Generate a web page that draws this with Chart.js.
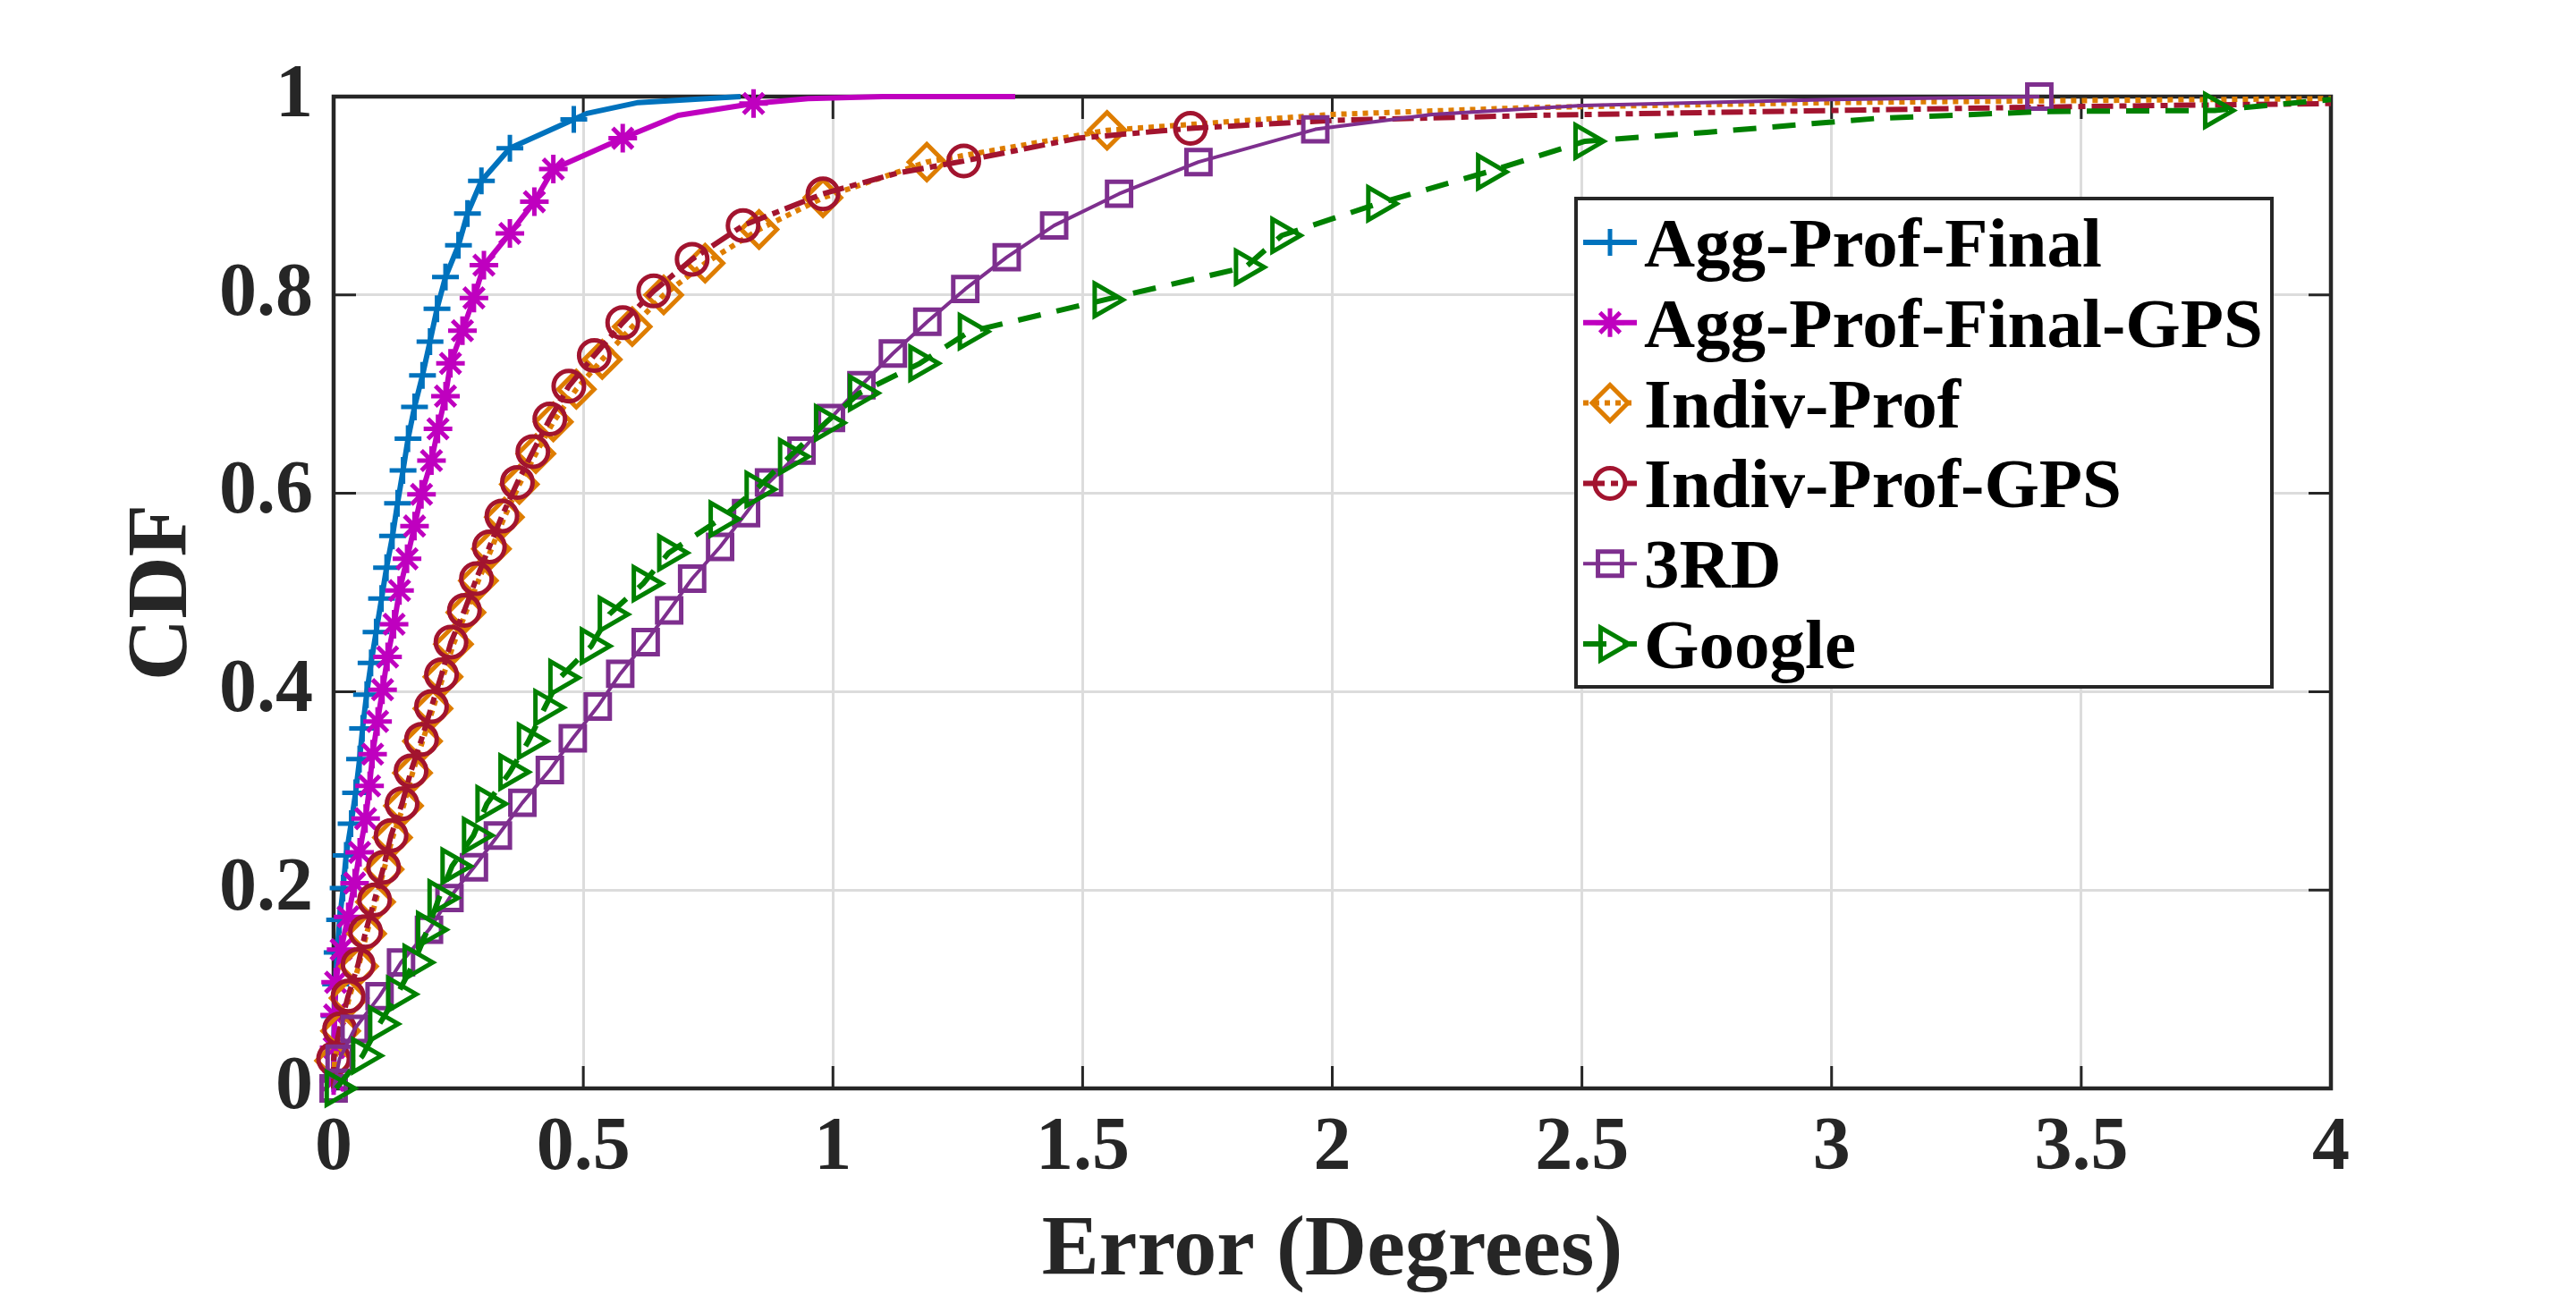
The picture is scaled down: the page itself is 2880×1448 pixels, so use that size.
<!DOCTYPE html>
<html>
<head>
<meta charset="utf-8">
<script src="https://cdn.jsdelivr.net/npm/chart.js@4.4.1/dist/chart.umd.min.js"></script>
<style>
  html, body { margin: 0; padding: 0; background: #fff; }
  #wrap { width: 2880px; height: 1448px; }
</style>
</head>
<body>
<div id="wrap"><canvas id="cdf" width="2880" height="1448"></canvas></div>
<script>
// tick values and labels
const xTickValues = [0, 0.5, 1, 1.5, 2, 2.5, 3, 3.5, 4];
const xTickLabels = ['0', '0.5', '1', '1.5', '2', '2.5', '3', '3.5', '4'];
const yTickValues = [0, 0.2, 0.4, 0.6, 0.8, 1];
const yTickLabels = ['0', '0.2', '0.4', '0.6', '0.8', '1'];

const seriesNames = ['Agg-Prof-Final', 'Agg-Prof-Final-GPS', 'Indiv-Prof', 'Indiv-Prof-GPS', '3RD', 'Google'];

// Agg-Prof-Final (points carrying a marker, then plain line points)
const aggX = [0.000, 0.001, 0.002, 0.004, 0.007, 0.012, 0.019, 0.025, 0.035, 0.044, 0.052, 0.058, 0.066, 0.075, 0.085, 0.096,
  0.106, 0.118, 0.128, 0.139, 0.149, 0.162, 0.178, 0.193, 0.207, 0.224, 0.250, 0.268, 0.296, 0.353, 0.481];
const aggY = [0.010, 0.041, 0.073, 0.105, 0.137, 0.170, 0.202, 0.235, 0.267, 0.298, 0.332, 0.363, 0.397, 0.429, 0.460, 0.494,
  0.525, 0.557, 0.590, 0.623, 0.655, 0.687, 0.719, 0.753, 0.786, 0.818, 0.850, 0.882, 0.915, 0.948, 0.977];
const aggLineX = [0.000, 0.507, 0.610, 0.815];
const aggLineY = [0.000, 0.983, 0.994, 1.000];

// Agg-Prof-Final-GPS
const aggGpsX = [0.000, 0.001, 0.002, 0.004, 0.015, 0.029, 0.042, 0.052, 0.064, 0.072, 0.078, 0.088, 0.098, 0.108, 0.121, 0.132,
  0.147, 0.162, 0.176, 0.196, 0.209, 0.224, 0.234, 0.258, 0.281, 0.301, 0.353, 0.402, 0.440, 0.579, 0.841];
const aggGpsY = [0.008, 0.041, 0.074, 0.107, 0.140, 0.173, 0.207, 0.238, 0.272, 0.305, 0.337, 0.370, 0.402, 0.435, 0.468, 0.502,
  0.534, 0.567, 0.599, 0.633, 0.665, 0.698, 0.731, 0.764, 0.797, 0.830, 0.862, 0.894, 0.927, 0.958, 0.993];
const aggGpsLineX = [0.000, 0.690, 0.950, 1.100, 1.365];
const aggGpsLineY = [0.000, 0.981, 0.998, 1.000, 1.000];

// Indiv-Prof
const indivX = [0.002, 0.014, 0.031, 0.050, 0.066, 0.084, 0.101, 0.118, 0.140, 0.158, 0.178, 0.199, 0.219, 0.240, 0.265, 0.290,
  0.316, 0.342, 0.372, 0.405, 0.440, 0.486, 0.538, 0.598, 0.661, 0.744, 0.852, 0.980, 1.188, 1.549];
const indivY = [0.028, 0.058, 0.091, 0.123, 0.156, 0.188, 0.221, 0.253, 0.285, 0.318, 0.350, 0.383, 0.415, 0.448, 0.480, 0.512,
  0.544, 0.576, 0.609, 0.640, 0.672, 0.705, 0.735, 0.768, 0.800, 0.832, 0.866, 0.898, 0.934, 0.966];
const indivLineX = [0.000, 2.000, 2.400, 3.000, 3.500, 4.000];
const indivLineY = [0.000, 0.982, 0.989, 0.994, 0.996, 0.998];

// Indiv-Prof-GPS
const indivGpsX = [0.000, 0.012, 0.029, 0.049, 0.064, 0.082, 0.100, 0.115, 0.137, 0.155, 0.176, 0.196, 0.216, 0.235, 0.262, 0.286,
  0.312, 0.337, 0.368, 0.399, 0.433, 0.471, 0.522, 0.579, 0.641, 0.718, 0.820, 0.980, 1.262, 1.716];
const indivGpsY = [0.030, 0.060, 0.093, 0.125, 0.158, 0.190, 0.223, 0.255, 0.287, 0.320, 0.352, 0.385, 0.417, 0.450, 0.482, 0.514,
  0.546, 0.577, 0.611, 0.642, 0.675, 0.708, 0.739, 0.772, 0.804, 0.836, 0.870, 0.902, 0.935, 0.968];
const indivGpsLineX = [0.000, 1.130, 1.490, 2.000, 2.400, 3.000, 3.500, 4.000];
const indivGpsLineY = [0.000, 0.923, 0.958, 0.976, 0.981, 0.986, 0.990, 0.993];

// 3RD
const thirdX = [0.000, 0.012, 0.042, 0.092, 0.135, 0.191, 0.232, 0.281, 0.329, 0.378, 0.433, 0.479, 0.529, 0.574, 0.625, 0.672,
  0.718, 0.774, 0.826, 0.872, 0.937, 0.996, 1.057, 1.120, 1.189, 1.265, 1.348, 1.443, 1.573, 1.732, 1.966, 3.416];
const thirdY = [0.000, 0.030, 0.060, 0.093, 0.127, 0.160, 0.192, 0.223, 0.255, 0.288, 0.321, 0.353, 0.385, 0.418, 0.450, 0.482,
  0.514, 0.546, 0.580, 0.611, 0.643, 0.676, 0.709, 0.741, 0.773, 0.806, 0.838, 0.870, 0.902, 0.934, 0.967, 1.000];
const thirdLineX = [2.200, 2.500, 3.000];
const thirdLineY = [0.982, 0.991, 0.997];

// Google
const googleX = [0.005, 0.058, 0.092, 0.128, 0.161, 0.188, 0.211, 0.237, 0.280, 0.307, 0.353, 0.390, 0.423, 0.453, 0.516, 0.552,
  0.620, 0.671, 0.774, 0.846, 0.913, 0.985, 1.053, 1.174, 1.273, 1.543, 1.826, 1.899, 2.091, 2.311, 2.506, 3.767];
const googleY = [0.000, 0.033, 0.065, 0.095, 0.127, 0.160, 0.192, 0.224, 0.255, 0.287, 0.319, 0.350, 0.384, 0.414, 0.446, 0.478,
  0.509, 0.540, 0.574, 0.604, 0.637, 0.671, 0.701, 0.731, 0.763, 0.795, 0.828, 0.860, 0.892, 0.924, 0.955, 0.986];
const googleLineX = [2.750, 3.090, 3.430, 3.870, 4.000];
const googleLineY = [0.964, 0.978, 0.985, 0.991, 0.997];

const FONT = '"Liberation Serif", "Times New Roman", Times, serif';
const INK = '#262626';

// marked points and plain line points merged in CDF order
function mergePoints(mx, my, lx, ly) {
  const pts = mx.map((v, i) => ({ x: v, y: my[i], m: true }));
  lx.forEach((v, i) => pts.push({ x: v, y: ly[i], m: false }));
  pts.sort((a, b) => (a.y - b.y) || (a.x - b.x));
  return pts;
}

const series = [
  { pts: mergePoints(aggX, aggY, aggLineX, aggLineY), color: '#0072BD', dash: [], width: 6, marker: 'cross', rot: 0, r: 15 },
  { pts: mergePoints(aggGpsX, aggGpsY, aggGpsLineX, aggGpsLineY), color: '#BF00BF', dash: [], width: 6, marker: 'star', rot: 0, r: 16 },
  { pts: mergePoints(indivX, indivY, indivLineX, indivLineY), color: '#DE7D00', dash: [6, 6], width: 6, marker: 'rectRot', rot: 0, r: 20 },
  { pts: mergePoints(indivGpsX, indivGpsY, indivGpsLineX, indivGpsLineY), color: '#A2142F', dash: [24, 7, 8, 7], width: 6, marker: 'circle', rot: 0, r: 17 },
  { pts: mergePoints(thirdX, thirdY, thirdLineX, thirdLineY), color: '#7E2F8E', dash: [], width: 4, marker: 'rect', rot: 0, r: 19 },
  { pts: mergePoints(googleX, googleY, googleLineX, googleLineY), color: '#008000', dash: [26, 18], width: 6, marker: 'triangle', rot: 90, r: 21 }
];

const datasets = series.map((s, i) => ({
  label: seriesNames[i],
  data: s.pts,
  borderColor: s.color,
  borderWidth: s.width,
  borderDash: s.dash,
  borderJoinStyle: 'round',
  tension: 0,
  fill: false,
  clip: false,
  order: series.length - i,
  pointStyle: s.marker,
  pointRotation: s.rot,
  pointRadius: c => (c.raw && c.raw.m) ? s.r : 0,
  pointHoverRadius: 0,
  pointBorderColor: s.color,
  pointBackgroundColor: 'rgba(0,0,0,0)',
  pointBorderWidth: 5
}));

// box round the plot with inward ticks on all four sides (drawn under the data)
const axesBox = {
  id: 'axesBox',
  beforeDatasetsDraw(chart) {
    const { ctx, chartArea: a, scales: { x, y } } = chart;
    const tl = 25;
    ctx.save();
    ctx.strokeStyle = INK;
    ctx.lineWidth = 3;
    ctx.beginPath();
    xTickValues.forEach(v => {
      const px = x.getPixelForValue(v);
      ctx.moveTo(px, a.bottom); ctx.lineTo(px, a.bottom - tl);
      ctx.moveTo(px, a.top); ctx.lineTo(px, a.top + tl);
    });
    yTickValues.forEach(v => {
      const py = y.getPixelForValue(v);
      ctx.moveTo(a.left, py); ctx.lineTo(a.left + tl, py);
      ctx.moveTo(a.right, py); ctx.lineTo(a.right - tl, py);
    });
    ctx.stroke();
    ctx.lineWidth = 4.5;
    ctx.strokeRect(a.left, a.top, a.right - a.left, a.bottom - a.top);
    ctx.restore();
  }
};

// legend box inside the plot, upper right
const boxLegend = {
  id: 'boxLegend',
  afterDraw(chart) {
    const ctx = chart.ctx;
    const L = 1762, T = 222, R = 2540, B = 768;
    ctx.save();
    ctx.fillStyle = '#fff';
    ctx.fillRect(L, T, R - L, B - T);
    ctx.strokeStyle = INK;
    ctx.lineWidth = 4;
    ctx.strokeRect(L, T, R - L, B - T);
    ctx.font = 'bold 79px ' + FONT;
    ctx.textBaseline = 'alphabetic';
    ctx.textAlign = 'left';
    chart.data.datasets.forEach((ds, i) => {
      const s = series[i];
      const cy = 271 + i * 89.8;
      ctx.strokeStyle = s.color;
      ctx.lineWidth = s.width;
      ctx.setLineDash(s.dash);
      ctx.beginPath();
      ctx.moveTo(1770, cy);
      ctx.lineTo(1830, cy);
      ctx.stroke();
      ctx.setLineDash([]);
      ctx.fillStyle = 'rgba(0,0,0,0)';
      ctx.lineWidth = 5;
      if (Chart.helpers && Chart.helpers.drawPoint) {
        Chart.helpers.drawPoint(ctx, { pointStyle: s.marker, rotation: s.rot, radius: s.r, borderWidth: 5 }, 1800, cy);
      }
      ctx.fillStyle = '#000';
      ctx.fillText(ds.label, 1838, cy + 27);
    });
    ctx.restore();
  }
};

new Chart(document.getElementById('cdf'), {
  type: 'line',
  data: { datasets: datasets },
  plugins: [axesBox, boxLegend],
  options: {
    responsive: false,
    animation: false,
    events: [],
    layout: { padding: { left: 0, top: 108, right: 274, bottom: 0 } },
    plugins: { legend: { display: false }, tooltip: { enabled: false } },
    scales: {
      x: {
        type: 'linear', min: 0, max: 4,
        afterBuildTicks: s => { s.ticks = xTickValues.map(v => ({ value: v })); },
        afterFit: s => { s.height = 231; },
        grid: { color: '#dcdcdc', lineWidth: 3, drawTicks: false },
        border: { display: false },
        ticks: {
          autoSkip: false, maxRotation: 0, padding: 18, color: INK,
          font: { family: FONT, size: 84, weight: 'bold' },
          callback: (v, i) => xTickLabels[i]
        },
        title: {
          display: true, text: 'Error (Degrees)', color: INK,
          font: { family: FONT, size: 96, weight: 'bold', lineHeight: 1 },
          padding: { top: 0, bottom: 0 }
        }
      },
      y: {
        type: 'linear', min: 0, max: 1,
        afterBuildTicks: s => { s.ticks = yTickValues.map(v => ({ value: v })); },
        afterFit: s => { s.width = 373; },
        grid: { color: '#dcdcdc', lineWidth: 3, drawTicks: false },
        border: { display: false },
        ticks: {
          autoSkip: false, padding: 23, color: INK,
          font: { family: FONT, size: 84, weight: 'bold' },
          callback: (v, i) => yTickLabels[i]
        },
        title: {
          display: true, text: 'CDF', color: INK,
          font: { family: FONT, size: 96, weight: 'bold', lineHeight: 1 },
          padding: { top: 135, bottom: 0 }
        }
      }
    }
  }
});
</script>
</body>
</html>
